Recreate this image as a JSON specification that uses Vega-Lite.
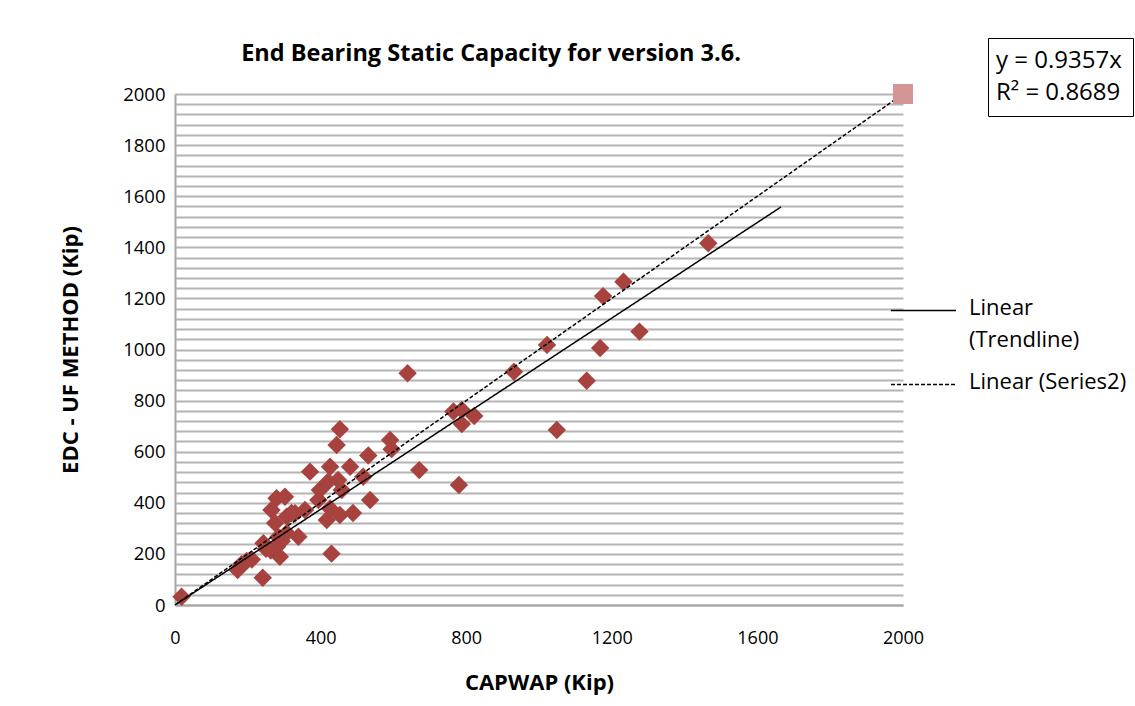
{
  "$schema": "https://vega.github.io/schema/vega-lite/v6.json",
  "autosize": {"type": "none"},
  "padding": {"left": 175, "top": 94, "right": 232, "bottom": 101},
  "width": 728,
  "height": 511,
  "background": "white",
  "config": {
    "font": "Open Sans",
    "view": {"stroke": null},
    "axis": {"labelFont": "Open Sans", "titleFont": "Open Sans", "labelColor": "black", "titleColor": "black"}
  },
  "title": {
    "text": "End Bearing Static Capacity for version 3.6.",
    "font": "Open Sans",
    "fontSize": 23.5,
    "fontWeight": "bold",
    "color": "black",
    "anchor": "middle",
    "frame": "group",
    "dx": -48,
    "offset": -28
  },
  "datasets": {
    "pts": [
      {"capwap": 18, "edc": 32},
      {"capwap": 172, "edc": 137},
      {"capwap": 183, "edc": 160},
      {"capwap": 197, "edc": 172},
      {"capwap": 211, "edc": 178},
      {"capwap": 241, "edc": 107},
      {"capwap": 243, "edc": 242},
      {"capwap": 250, "edc": 220},
      {"capwap": 263, "edc": 213},
      {"capwap": 280, "edc": 228},
      {"capwap": 288, "edc": 189},
      {"capwap": 284, "edc": 266},
      {"capwap": 293, "edc": 250},
      {"capwap": 307, "edc": 282},
      {"capwap": 275, "edc": 321},
      {"capwap": 265, "edc": 372},
      {"capwap": 279, "edc": 418},
      {"capwap": 302, "edc": 424},
      {"capwap": 307, "edc": 346},
      {"capwap": 320, "edc": 360},
      {"capwap": 330, "edc": 359},
      {"capwap": 339, "edc": 267},
      {"capwap": 357, "edc": 372},
      {"capwap": 371, "edc": 522},
      {"capwap": 394, "edc": 411},
      {"capwap": 398, "edc": 450},
      {"capwap": 417, "edc": 333},
      {"capwap": 421, "edc": 483},
      {"capwap": 426, "edc": 378},
      {"capwap": 426, "edc": 541},
      {"capwap": 430, "edc": 201},
      {"capwap": 444, "edc": 626},
      {"capwap": 448, "edc": 489},
      {"capwap": 453, "edc": 688},
      {"capwap": 453, "edc": 352},
      {"capwap": 458, "edc": 450},
      {"capwap": 481, "edc": 541},
      {"capwap": 489, "edc": 360},
      {"capwap": 517, "edc": 502},
      {"capwap": 531, "edc": 585},
      {"capwap": 536, "edc": 411},
      {"capwap": 591, "edc": 646},
      {"capwap": 595, "edc": 610},
      {"capwap": 639, "edc": 907},
      {"capwap": 671, "edc": 528},
      {"capwap": 765, "edc": 757},
      {"capwap": 788, "edc": 763},
      {"capwap": 788, "edc": 708},
      {"capwap": 822, "edc": 740},
      {"capwap": 780, "edc": 470},
      {"capwap": 931, "edc": 913},
      {"capwap": 1022, "edc": 1018},
      {"capwap": 1049, "edc": 685},
      {"capwap": 1131, "edc": 878},
      {"capwap": 1168, "edc": 1006},
      {"capwap": 1176, "edc": 1209},
      {"capwap": 1232, "edc": 1265},
      {"capwap": 1276, "edc": 1070},
      {"capwap": 1465, "edc": 1416}
    ],
    "lines": [
      {"series": "Trendline", "capwap": 5, "edc": 4.7},
      {"series": "Trendline", "capwap": 1665, "edc": 1558},
      {"series": "Series2", "capwap": 0, "edc": 0},
      {"series": "Series2", "capwap": 2000, "edc": 2000}
    ],
    "eq": [
      {"eq": "y = 0.9357x"},
      {"eq": "R² = 0.8689"}
    ]
  },
  "layer": [
    {
      "data": {"name": "pts"},
      "mark": {"type": "point", "shape": "diamond", "filled": true, "size": 340, "color": "#A8423E", "opacity": 1},
      "encoding": {
        "x": {
          "field": "capwap", "type": "quantitative",
          "scale": {"domain": [0, 2000], "nice": false, "zero": true},
          "axis": {
            "title": "CAPWAP (Kip)",
            "values": [0, 400, 800, 1200, 1600, 2000],
            "format": "d",
            "labelFlush": false,
            "grid": false, "ticks": false,
            "domainColor": "#a6a6a6", "domainWidth": 2,
            "labelFontSize": 18, "labelPadding": 24,
            "titleFontSize": 22, "titleFontWeight": "bold", "titlePadding": 25
          }
        },
        "y": {
          "field": "edc", "type": "quantitative",
          "scale": {"domain": [0, 2000], "nice": false, "zero": true},
          "axis": {
            "title": "EDC - UF METHOD (Kip)",
            "values": [0,40,80,120,160,200,240,280,320,360,400,440,480,520,560,600,640,680,720,760,800,840,880,920,960,1000,1040,1080,1120,1160,1200,1240,1280,1320,1360,1400,1440,1480,1520,1560,1600,1640,1680,1720,1760,1800,1840,1880,1920,1960,2000],
            "tickCount": 100,
            "labelOverlap": false,
            "labelExpr": "datum.value % 200 == 0 ? datum.label : ''",
            "format": "d",
            "grid": true, "gridColor": "#b4b4b4", "gridWidth": 2,
            "ticks": false,
            "domainColor": "#a6a6a6", "domainWidth": 2,
            "labelFontSize": 18.5, "labelPadding": 10,
            "titleFontSize": 22, "titleFontWeight": "bold", "titlePadding": 40
          }
        }
      }
    },
    {
      "data": {"name": "lines"},
      "mark": {"type": "line", "color": "black", "strokeWidth": 1.5},
      "encoding": {
        "x": {"field": "capwap", "type": "quantitative"},
        "y": {"field": "edc", "type": "quantitative"},
        "detail": {"field": "series"},
        "strokeDash": {
          "field": "series", "type": "nominal",
          "scale": {"domain": ["Trendline", "Series2"], "range": [[1, 0], [4, 2]]},
          "legend": {
            "title": null,
            "orient": "none",
            "legendX": 715,
            "legendY": 183,
            "symbolType": "stroke",
            "symbolSize": 4225,
            "symbolStrokeColor": "black",
            "symbolStrokeWidth": 1.5,
            "labelFont": "Open Sans",
            "labelFontSize": 22,
            "labelColor": "black",
            "labelOffset": 12,
            "rowPadding": -3,
            "labelLimit": 300,
            "labelExpr": "datum.label == 'Trendline' ? ['Linear', '(Trendline)'] : 'Linear (Series2)'",
            "labelBaseline": "top",
            "encode": {"labels": {"update": {"dy": {"value": -13}, "lineHeight": {"value": 32}}}}
          }
        }
      }
    },
    {
      "data": {"values": [{"capwap": 2000, "edc": 2000}]},
      "mark": {"type": "point", "shape": "square", "filled": true, "size": 400, "color": "#D39596", "opacity": 1},
      "encoding": {
        "x": {"field": "capwap", "type": "quantitative"},
        "y": {"field": "edc", "type": "quantitative"}
      }
    },
    {
      "data": {"name": "eq"},
      "mark": {"type": "point", "size": 0, "opacity": 0},
      "encoding": {
        "shape": {
          "field": "eq", "type": "nominal",
          "scale": {"domain": ["y = 0.9357x", "R² = 0.8689"]},
          "legend": {
            "title": null,
            "orient": "none",
            "legendX": 813,
            "legendY": -56,
            "symbolSize": 0,
            "symbolOpacity": 0,
            "labelOffset": -27,
            "labelFont": "Open Sans",
            "labelFontSize": 24,
            "labelColor": "black",
            "labelLimit": 300,
            "rowPadding": 8,
            "padding": 11,
            "strokeColor": "black",
            "encode": {"legend": {"update": {"strokeWidth": {"value": 1.5}}}}
          }
        }
      }
    }
  ]
}
